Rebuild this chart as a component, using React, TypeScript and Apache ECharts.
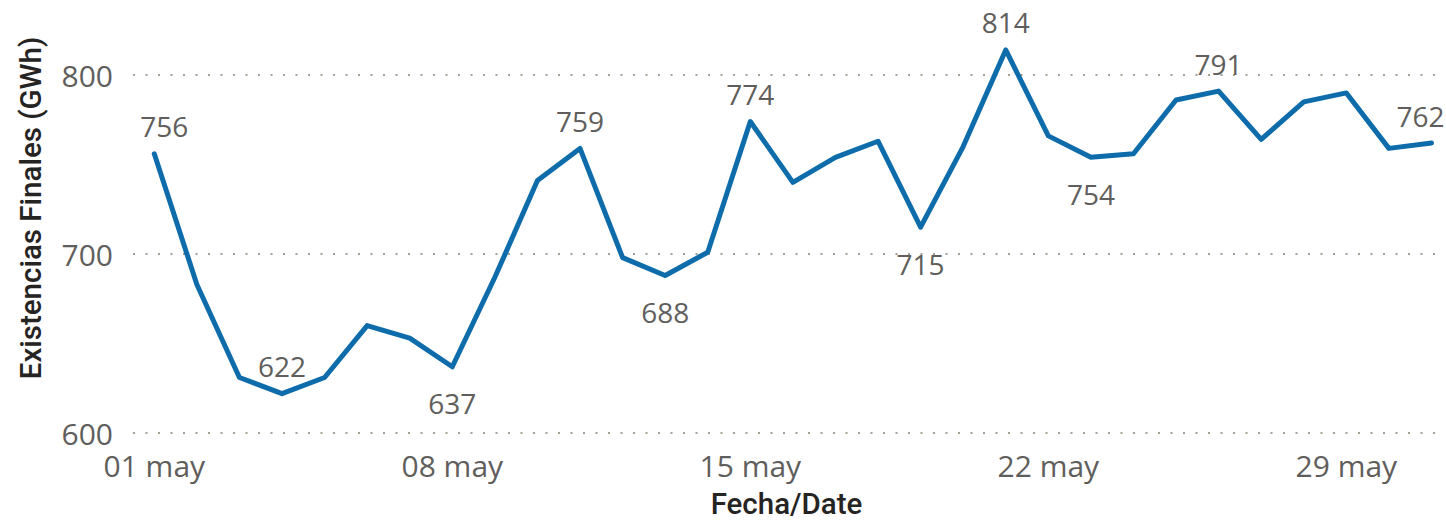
import React, { useEffect, useRef } from "react";
import * as echarts from "echarts";

const days = [1, 2, 3, 4, 5, 6, 7, 8, 9, 10, 11, 12, 13, 14, 15, 16, 17, 18, 19, 20, 21, 22, 23, 24, 25, 26, 27, 28, 29, 30, 31];
const values = [756, 683, 631, 622, 631, 660, 653, 637, 687, 741, 759, 698, 688, 701, 774, 740, 754, 763, 715, 760, 814, 766, 754, 756, 786, 791, 764, 785, 790, 759, 762];
const labelAboveDays = [1, 4, 11, 15, 21, 26, 31];
const labelBelowDays = [8, 13, 19, 23];
const xTickDays = [1, 8, 15, 22, 29];
const xTickLabels = ["01 may", "08 may", "15 may", "22 may", "29 may"];
const yTitle = "Existencias Finales (GWh)";
const xTitle = "Fecha/Date";

const LABEL_FONT = "'Open Sans', 'Noto Sans', sans-serif";
const TITLE_FONT = "Roboto, 'Noto Sans', sans-serif";
const GRAY = "#605E5C";

export default function App() {
  const ref = useRef<HTMLDivElement>(null);
  useEffect(() => {
    if (!ref.current) return;
    const chart = echarts.init(ref.current, undefined, { renderer: "svg" });
    const data = days.map((d, i) => {
      const above = labelAboveDays.includes(d);
      const below = labelBelowDays.includes(d);
      const item: any = { value: [d, values[i]] };
      if (above || below) {
        let offsetX = 0;
        if (i === 0) offsetX = 10;
        if (i === days.length - 1) offsetX = -11;
        item.label = {
          show: true,
          position: above ? "top" : "bottom",
          distance: above ? 13 : 22,
          offset: [offsetX, 0],
        };
      }
      return item;
    });
    chart.setOption({
      animation: false,
      grid: {
        left: 133,
        right: 6,
        top: 75,
        bottom: 88,
        containLabel: false,
        outerBoundsMode: "none",
      },
      xAxis: {
        type: "value",
        min: 0.5,
        max: 31.2,
        axisLine: { show: false },
        axisTick: { show: false },
        splitLine: { show: false },
        axisLabel: {
          customValues: xTickDays,
          formatter: (v: number) => xTickLabels[xTickDays.indexOf(v)] ?? "",
          color: GRAY,
          fontFamily: LABEL_FONT,
          fontSize: 30,
          margin: 17,
        },
        name: xTitle,
        nameLocation: "middle",
        nameGap: 56,
        nameTextStyle: {
          color: "#252423",
          fontFamily: TITLE_FONT,
          fontSize: 29.5,
          fontWeight: 500,
        },
      },
      yAxis: {
        type: "value",
        min: 600,
        max: 800,
        interval: 100,
        axisLine: { show: false },
        axisTick: { show: false },
        axisLabel: {
          color: GRAY,
          fontFamily: LABEL_FONT,
          fontSize: 30,
          margin: 20,
        },
        splitLine: {
          show: true,
          lineStyle: { color: "#A3A294", width: 2, type: [2, 10.5] },
        },
      },
      graphic: [
        {
          type: "text",
          x: 31,
          y: 208,
          rotation: Math.PI / 2,
          style: {
            text: yTitle,
            fill: "#252423",
            font: `500 29.5px ${TITLE_FONT}`,
            align: "center",
            verticalAlign: "middle",
          },
        },
      ],
      series: [
        {
          type: "line",
          data,
          clip: false,
          symbol: "circle",
          symbolSize: 1,
          showSymbol: true,
          itemStyle: { color: "rgba(0,0,0,0)", borderWidth: 0 },
          lineStyle: { color: "#0F6CAB", width: 5, join: "round", cap: "round" },
          label: {
            show: false,
            color: GRAY,
            fontFamily: LABEL_FONT,
            fontSize: 28,
            formatter: (p: any) => String(p.value[1]),
          },
          emphasis: { disabled: true },
        },
      ],
    });
    return () => chart.dispose();
  }, []);
  return (
    <div
      ref={ref}
      style={{ position: "fixed", left: 0, top: 0, width: 1446, height: 521, background: "#fff" }}
    />
  );
}
